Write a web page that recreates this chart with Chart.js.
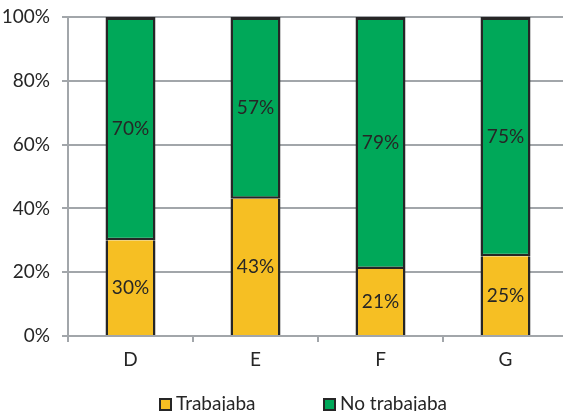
<!DOCTYPE html>
<html>
<head>
<meta charset="utf-8">
<script src="https://cdn.jsdelivr.net/npm/chart.js@4.4.1/dist/chart.umd.min.js"></script>
<style>
  html, body { margin: 0; padding: 0; background: #fff; }
  #wrap { position: relative; width: 563px; height: 411px; overflow: hidden; }
  #box { position: absolute; left: 0; top: 0; width: 580px; height: 411px; }
  #legend { position: absolute; top: 391px; left: 0; width: 563px; font: 19px Lato, sans-serif; color: #262626; }
  .item { position: absolute; top: 0; line-height: 24px; white-space: nowrap; }
  .sw { display: inline-block; width: 9px; height: 9px; border: 2px solid #262626; vertical-align: -1px; margin-right: 4px; }
</style>
</head>
<body>
<div id="wrap">
  <div id="box"><canvas id="chart"></canvas></div>
  <div id="legend"></div>
</div>
<script>
// Data
const categories = ['D', 'E', 'F', 'G'];
const seriesNames = ['Trabajaba', 'No trabajaba'];
const trabajaba = [30, 43, 21, 25];
const noTrabajaba = [70, 57, 79, 75];
const yTicks = [0, 20, 40, 60, 80, 100];

const colors = ['#F6BF23', '#00A859'];
const gridColor = '#A2A6AA';
const textColor = '#262626';
const font = { family: 'Lato, sans-serif', size: 19 };
// lower segment: sides only; upper segment draws the shared line
const lowBorder = { top: 0, left: 2.5, right: 2.5, bottom: 0 };
const highBorder = { top: 3, left: 2.5, right: 2.5, bottom: 2.5 };

// simple legend below the chart
const legendPos = [159, 323];
const legend = document.getElementById('legend');
seriesNames.forEach((name, i) => {
    const it = document.createElement('div');
    it.className = 'item';
    it.style.left = legendPos[i] + 'px';
    it.innerHTML = '<span class="sw" style="background:' + colors[i] + '"></span>' + name;
    legend.appendChild(it);
});

// data labels in the middle of each segment
const barLabels = {
    id: 'barLabels',
    afterDatasetsDraw(chart) {
        const ctx = chart.ctx;
        ctx.save();
        ctx.font = font.size + 'px ' + font.family;
        ctx.fillStyle = textColor;
        ctx.textAlign = 'center';
        ctx.textBaseline = 'middle';
        chart.data.datasets.forEach((ds, di) => {
            chart.getDatasetMeta(di).data.forEach((bar, i) => {
                ctx.fillText(ds.data[i] + '%', bar.x, (bar.y + bar.base) / 2);
            });
        });
        ctx.restore();
    }
};

new Chart(document.getElementById('chart'), {
    type: 'bar',
    data: {
        labels: categories,
        datasets: [{
            label: seriesNames[0],
            data: trabajaba,
            backgroundColor: colors[0],
            borderColor: '#262626',
            borderWidth: lowBorder,
            borderSkipped: false
        }, {
            label: seriesNames[1],
            data: noTrabajaba,
            backgroundColor: colors[1],
            borderColor: '#262626',
            borderWidth: highBorder,
            borderSkipped: false
        }]
    },
    options: {
        responsive: true,
        maintainAspectRatio: false,
        animation: false,
        layout: { padding: { top: 17, right: 12, left: 0, bottom: 0 } },
        datasets: { bar: { barPercentage: 0.8, categoryPercentage: 0.5 } },
        plugins: {
            legend: { display: false },
            tooltip: { enabled: false }
        },
        scales: {
            x: {
                stacked: true,
                grid: { offset: true, drawOnChartArea: false, drawTicks: true, tickLength: 6, color: gridColor, lineWidth: 2 },
                border: { display: true, color: gridColor, width: 2, z: 1 },
                ticks: { color: textColor, font: font, padding: 6 },
                afterFit(scale) { scale.height = 75; }
            },
            y: {
                stacked: true,
                min: 0,
                max: 100,
                afterBuildTicks(scale) { scale.ticks = yTicks.map(v => ({ value: v })); },
                grid: { color: gridColor, lineWidth: 2, tickLength: 6 },
                border: { display: true, color: gridColor, width: 2 },
                ticks: { color: textColor, font: font, padding: 12, callback: v => v + '%' },
                afterFit(scale) {
                    scale.width = 68;
                    scale.paddingTop = 0;
                    scale.paddingBottom = 0;
                }
            }
        }
    },
    plugins: [barLabels]
});
</script>
</body>
</html>
